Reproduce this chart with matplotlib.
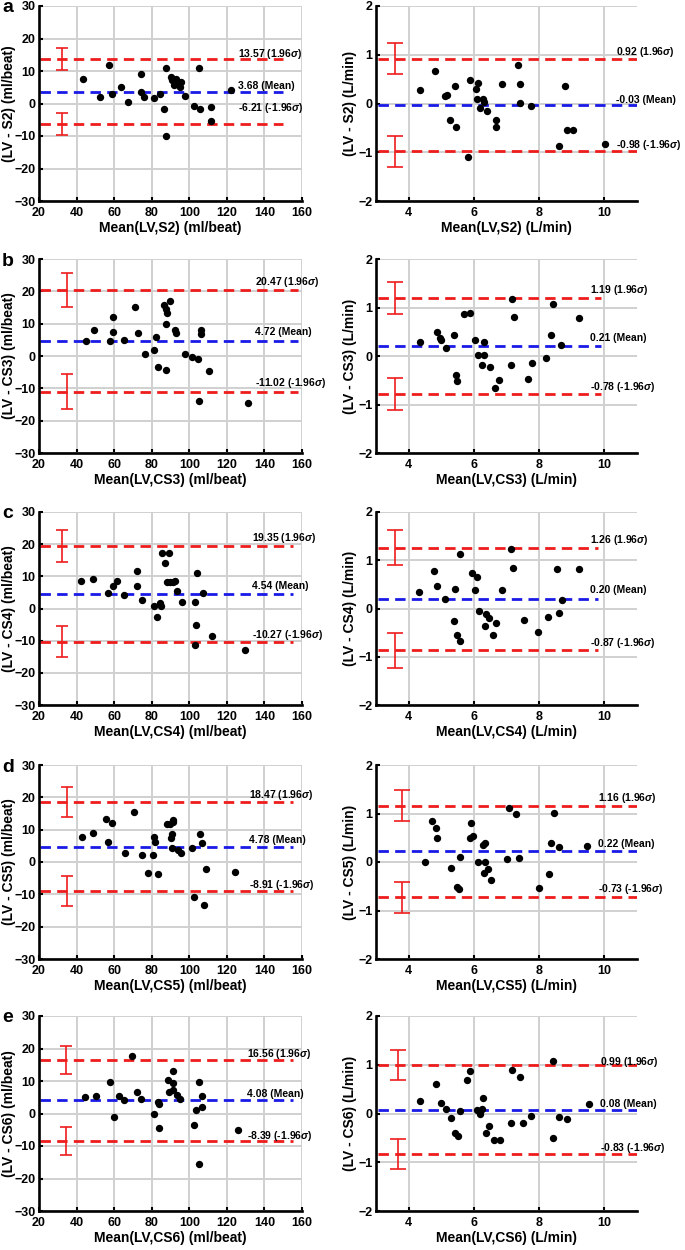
import matplotlib
matplotlib.use("Agg")
import matplotlib.pyplot as plt

plt.rcParams['font.family'] = ['Liberation Sans', 'DejaVu Sans']
plt.rcParams['font.weight'] = 'bold'
plt.rcParams['axes.labelweight'] = 'bold'
plt.rcParams['mathtext.fontset'] = 'custom'
plt.rcParams['mathtext.it'] = 'Liberation Sans:italic:bold'
plt.rcParams['mathtext.rm'] = 'Liberation Sans:bold'
plt.rcParams['lines.scale_dashes'] = False

# ---------------- data ----------------
row_letters = ['a', 'b', 'c', 'd', 'e']
methods = ['S2', 'CS3', 'CS4', 'CS5', 'CS6']

# Stroke volume panels (ml/beat)
sv_a_x = [43.5, 52.5, 57, 59, 63.5, 67.5, 74.5, 74.5, 76, 81, 84.5, 86.5, 87.5, 87.5, 90.5, 91, 92, 93, 94,
          95, 95.5, 97.5, 102.5, 105, 105.5, 111.5, 111.5, 122]
sv_a_y = [7.5, 2, 12, 2.8, 5, 0.5, 9.2, 3.5, 2, 1.8, 3, -1.8, -10, 10.8, 8.3, 7.3, 5.8, 7.5, 6.5,
          5, 6.5, 2.3, -0.8, 10.8, -1.6, -1.2, -5.5, 4.2]
sv_b_x = [45, 49.5, 58, 59.5, 59.5, 65.5, 71, 72.5, 76.5, 81, 82.5, 83.5, 86.5, 87.5, 88, 87.5, 87.5, 89.5,
          92.5, 93, 97.5, 101.5, 104.5, 105, 106.5, 106.5, 110.5, 131]
sv_b_y = [4.5, 8, 4.5, 12, 7.5, 5, 15.2, 7.2, 0.6, 2, 6, -3.3, 15.8, 14.5, 13.2, 10, -4.2, 17,
          8, 7.2, 0.5, -0.3, -1, -13.8, 8, 6.8, -4.5, -14.5]
sv_c_x = [42.6, 48.8, 56.8, 59.5, 61.3, 65.4, 72, 72, 75, 81.2, 82.6, 84.4, 85, 85.3, 87.1, 88, 89.2, 89.8,
          91.5, 92.4, 93.3, 96, 103.1, 104, 103.6, 103.1, 107.5, 112, 129.4]
sv_c_y = [8.5, 9.1, 4.9, 6.9, 8.5, 4.3, 11.7, 6.9, 2.6, 0.8, -2.6, 1.6, 0.7, 17.4, 14.2, 8.3, 17.4, 8.3,
          8.3, 8.5, 5.4, 2.1, 2.1, 11, -5.0, -11.4, 4.9, -8.6, -12.9]
sv_d_x = [43, 48.8, 55.9, 56.5, 59.1, 65.7, 70.7, 74.6, 78.2, 80.5, 81.2, 81.7, 83.5, 88, 89.8, 90.3, 90.6,
          90.6, 91.2, 91.5, 94.2, 95.6, 101.7, 102.7, 105.8, 106.7, 107.9, 109, 124.5]
sv_d_y = [7.8, 9.1, 13.2, 6.2, 12.2, 2.9, 15.5, 2.2, -3.3, 2.1, 7.8, 6.3, -3.6, 11.9, 11.9, 7.5, 8.6,
          4.4, 12.4, 12.9, 3.7, 2.7, 4.4, -10.8, 8.6, 5.8, -13.4, -2.3, -3.0]
sv_e_x = [44.4, 50.6, 57.7, 59.9, 62.5, 65.2, 69.6, 72.3, 74.3, 81.4, 83.5, 83.7, 83.9, 88.5, 89.2, 91.2,
          91.5, 91.2, 93.3, 95.1, 102.7, 103.4, 105.2, 105.2, 107, 107, 125.9]
sv_e_y = [5.0, 5.3, 9.7, -1.1, 5.3, 4.1, 17.8, 6.7, 4.6, 0, 3.5, 3.0, -4.4, 10.4, 6.6, 13.2,
          9.4, 7.2, 5.8, 4.6, -3.4, 1.0, 9.6, -15.5, 5.3, 1.9, -5.2]

# Cardiac output panels (L/min)
co_a_x = [4.36, 4.82, 5.12, 5.17, 5.27, 5.42, 5.46, 5.81, 5.89, 6.06, 6.14, 6.09, 6.19, 6.27, 6.31, 6.39,
          6.68, 6.68, 6.85, 7.36, 7.42, 7.42, 7.74, 8.62, 8.78, 8.84, 9.05, 10.03]
co_a_y = [0.27, 0.66, 0.15, 0.18, -0.33, 0.36, -0.48, -1.1, 0.49, 0.29, 0.43, 0.1, -0.1, 0.1, 0.03, -0.16,
          -0.34, -0.49, 0.40, 0.79, 0.41, 0.02, -0.05, -0.88, 0.36, -0.55, -0.55, -0.83]
co_b_x = [4.36, 4.87, 4.97, 4.99, 5.15, 5.40, 5.45, 5.48, 5.70, 5.87, 6.03, 6.12, 6.24, 6.32, 6.32, 6.48,
          6.66, 6.78, 7.14, 7.18, 7.23, 7.66, 7.79, 8.20, 8.36, 8.44, 8.66, 9.23]
co_b_y = [0.28, 0.50, 0.38, 0.32, 0.17, 0.43, -0.40, -0.52, 0.86, 0.89, 0.34, 0.03, -0.18, 0.28, 0.03, -0.23,
          -0.66, -0.50, -0.19, 1.17, 0.81, -0.47, -0.14, -0.04, 0.43, 1.07, 0.23, 0.79]
co_c_x = [4.33, 4.77, 4.87, 5.10, 5.41, 5.38, 5.48, 5.58, 5.56, 5.94, 6.02, 6.11, 6.17, 6.33, 6.37, 6.47,
          6.60, 6.67, 6.86, 7.14, 7.21, 7.54, 7.97, 8.27, 8.55, 8.62, 8.69, 9.22]
co_c_y = [0.34, 0.77, 0.47, 0.19, 0.41, -0.26, -0.54, -0.67, 1.13, 0.74, 0.38, 0.65, -0.06, -0.36, -0.12, -0.19,
          -0.55, -0.31, 0.39, 1.24, 0.84, -0.23, -0.49, -0.17, 0.82, -0.09, 0.17, 0.82]
co_d_x = [4.51, 4.73, 4.84, 4.87, 5.31, 5.48, 5.55, 5.58, 5.89, 5.92, 5.96, 6.12, 6.27, 6.30, 6.34, 6.34,
          6.44, 6.51, 7.02, 7.07, 7.29, 7.38, 7.99, 8.30, 8.36, 8.45, 8.62, 9.46]
co_d_y = [0.0, 0.85, 0.71, 0.49, -0.12, -0.52, -0.56, 0.10, 0.49, 0.80, 0.53, -0.01, 0.36, -0.23, 0.39, 0.0,
          -0.14, -0.38, 0.07, 1.11, 0.98, 0.09, -0.54, -0.24, 0.39, 1.01, 0.30, 0.33]
co_e_x = [4.36, 4.84, 4.99, 5.15, 5.31, 5.43, 5.50, 5.58, 5.78, 5.89, 6.11, 6.19, 6.26, 6.29, 6.36, 6.46,
          6.62, 6.80, 7.14, 7.18, 7.41, 7.51, 7.75, 8.43, 8.43, 8.60, 8.84, 9.53]
co_e_y = [0.25, 0.61, 0.22, 0.10, -0.10, -0.41, -0.46, 0.05, 0.68, 0.87, 0.08, -0.01, 0.10, 0.31, -0.40, -0.25,
          -0.55, -0.55, -0.19, 0.90, 0.74, -0.19, -0.05, 1.07, -0.50, -0.07, -0.12, 0.20]

# Bland-Altman statistics: upper LoA, mean bias, lower LoA
sv_upper = [13.57, 20.47, 19.35, 18.47, 16.56]
sv_mean = [3.68, 4.72, 4.54, 4.78, 4.08]
sv_lower = [-6.21, -11.02, -10.27, -8.91, -8.39]
co_upper = [0.92, 1.19, 1.26, 1.16, 0.99]
co_mean = [-0.03, 0.21, 0.20, 0.22, 0.08]
co_lower = [-0.98, -0.78, -0.87, -0.73, -0.83]

# 95% CI half widths of the limits of agreement
sv_ci = [3.4, 5.3, 4.95, 4.7, 4.3]
co_ci = [0.32, 0.33, 0.36, 0.32, 0.31]

sv_xs = [sv_a_x, sv_b_x, sv_c_x, sv_d_x, sv_e_x]
sv_ys = [sv_a_y, sv_b_y, sv_c_y, sv_d_y, sv_e_y]
co_xs = [co_a_x, co_b_x, co_c_x, co_d_x, co_e_x]
co_ys = [co_a_y, co_b_y, co_c_y, co_d_y, co_e_y]

# ---------------- layout / style ----------------
RED = '#ee1c1c'
BLUE = '#1a1ae6'
GRID = '#d0d0d0'

W, H = 685, 1250
rows_px = [(6, 201), (259, 453), (512, 705), (765, 959), (1016, 1211)]
left_px = (39, 302)
right_px = (376, 637)

# per-panel placement details (positions, not data)
sv_line_end = [150, 158, 155, 155, 155]
co_line_end = [11, 9.9, 9.8, 11, 11]
sv_bar_x = [32, 35, 32, 35, 34.6]
co_bar_x = [3.58, 3.58, 3.58, 3.79, 3.68]
sv_txt_x = [126, 135, 133.5, 132, 130.7]
sv_txt_y = [(15.1, 5.5, -1.5), (23.0, 7.5, -8.4), (21.9, 6.9, -8.3), (20.7, 6.8, -7.1), (18.2, 5.9, -6.85)]
co_txt_x = [10.37, 9.57, 9.55, 9.81, 9.86]
co_txt_y = [(1.05, 0.08, -0.86), (1.37, 0.37, -0.63), (1.43, 0.38, -0.71), (1.31, 0.38, -0.56), (1.06, 0.19, -0.71)]

fig = plt.figure(figsize=(W / 100, H / 100), dpi=100)
DASH = (7.5, 4.5)
LW = 2.0
TFS = 7.5


def style_axes(ax, xlim, ylim, xticks, yticks):
    ax.set_xlim(*xlim)
    ax.set_ylim(*ylim)
    ax.set_xticks(xticks)
    ax.set_yticks(yticks)
    ax.grid(True, color=GRID, lw=1.4, zorder=0)
    ax.set_axisbelow(True)
    for s in ['top', 'right']:
        ax.spines[s].set_visible(False)
    for s in ['left', 'bottom']:
        ax.spines[s].set_linewidth(1.9)
        ax.spines[s].set_color('black')
    ax.tick_params(direction='in', length=3, width=1.5, labelsize=9)
    ax.tick_params(axis='x', pad=4)
    ax.tick_params(axis='y', pad=2.5)
    for lab in ax.get_xticklabels() + ax.get_yticklabels():
        lab.set_fontweight('bold')


def fmt_val(v):
    return f"{v:.2f}"


for i in range(5):
    top, bot = rows_px[i]
    b = 1 - bot / H
    h = (bot - top) / H
    m = methods[i]

    # ---- left: stroke volume ----
    axl = fig.add_axes([left_px[0] / W, b, (left_px[1] - left_px[0]) / W, h])
    style_axes(axl, (20, 160), (-30, 30), range(20, 161, 20), range(-30, 31, 10))
    xe = sv_line_end[i]
    axl.plot([20.5, xe], [sv_upper[i]] * 2, color=RED, lw=LW, dashes=DASH, zorder=2)
    axl.plot([20.5, xe], [sv_lower[i]] * 2, color=RED, lw=LW, dashes=DASH, zorder=2)
    axl.plot([20.5, xe], [sv_mean[i]] * 2, color=BLUE, lw=LW, dashes=DASH, zorder=2)
    axl.errorbar([sv_bar_x[i]] * 2, [sv_upper[i], sv_lower[i]], yerr=sv_ci[i], fmt='none',
                 ecolor=RED, elinewidth=1.2, capsize=4.5, capthick=1.2, zorder=3)
    axl.scatter(sv_xs[i], sv_ys[i], s=28, color='black', zorder=4, linewidths=0)
    tx = sv_txt_x[i]
    ty = sv_txt_y[i]
    axl.text(tx, ty[0], fmt_val(sv_upper[i]) + r' (1.96$\sigma$)', fontsize=TFS, fontweight='bold',
             va='center', ha='left', zorder=5)
    axl.text(tx, ty[1], fmt_val(sv_mean[i]) + ' (Mean)', fontsize=TFS, fontweight='bold',
             va='center', ha='left', zorder=5)
    axl.text(tx, ty[2], fmt_val(sv_lower[i]) + r' (-1.96$\sigma$)', fontsize=TFS, fontweight='bold',
             va='center', ha='left', zorder=5)
    axl.set_xlabel(f'Mean(LV,{m}) (ml/beat)', fontsize=10, fontweight='bold', labelpad=2)
    axl.set_ylabel(f'(LV - {m}) (ml/beat)', fontsize=10, fontweight='bold')
    axl.yaxis.label.set_va('center')
    axl.yaxis.set_label_coords((9 - left_px[0]) / (left_px[1] - left_px[0]), 0.5)

    # ---- right: cardiac output ----
    axr = fig.add_axes([right_px[0] / W, b, (right_px[1] - right_px[0]) / W, h])
    style_axes(axr, (3, 11), (-2, 2), [4, 6, 8, 10], range(-2, 3, 1))
    xe = co_line_end[i]
    axr.plot([3.05, xe], [co_upper[i]] * 2, color=RED, lw=LW, dashes=DASH, zorder=2)
    axr.plot([3.05, xe], [co_lower[i]] * 2, color=RED, lw=LW, dashes=DASH, zorder=2)
    axr.plot([3.05, xe], [co_mean[i]] * 2, color=BLUE, lw=LW, dashes=DASH, zorder=2)
    axr.errorbar([co_bar_x[i]] * 2, [co_upper[i], co_lower[i]], yerr=co_ci[i], fmt='none',
                 ecolor=RED, elinewidth=1.2, capsize=6, capthick=1.2, zorder=3)
    axr.scatter(co_xs[i], co_ys[i], s=28, color='black', zorder=4, linewidths=0)
    tx = co_txt_x[i]
    ty = co_txt_y[i]
    axr.text(tx, ty[0], fmt_val(co_upper[i]) + r' (1.96$\sigma$)', fontsize=TFS, fontweight='bold',
             va='center', ha='left', zorder=5)
    axr.text(tx, ty[1], fmt_val(co_mean[i]) + ' (Mean)', fontsize=TFS, fontweight='bold',
             va='center', ha='left', zorder=5)
    axr.text(tx, ty[2], fmt_val(co_lower[i]) + r' (-1.96$\sigma$)', fontsize=TFS, fontweight='bold',
             va='center', ha='left', zorder=5)
    axr.set_xlabel(f'Mean(LV,{m}) (L/min)', fontsize=10, fontweight='bold', labelpad=2)
    axr.set_ylabel(f'(LV - {m}) (L/min)', fontsize=10, fontweight='bold')
    axr.yaxis.label.set_va('center')
    axr.yaxis.set_label_coords((350 - right_px[0]) / (right_px[1] - right_px[0]), 0.5)

    fig.text(8 / W, 1 - (top + 2) / H, row_letters[i], fontsize=14, fontweight='bold',
             ha='center', va='center')

fig.savefig('out.png', dpi=100)
